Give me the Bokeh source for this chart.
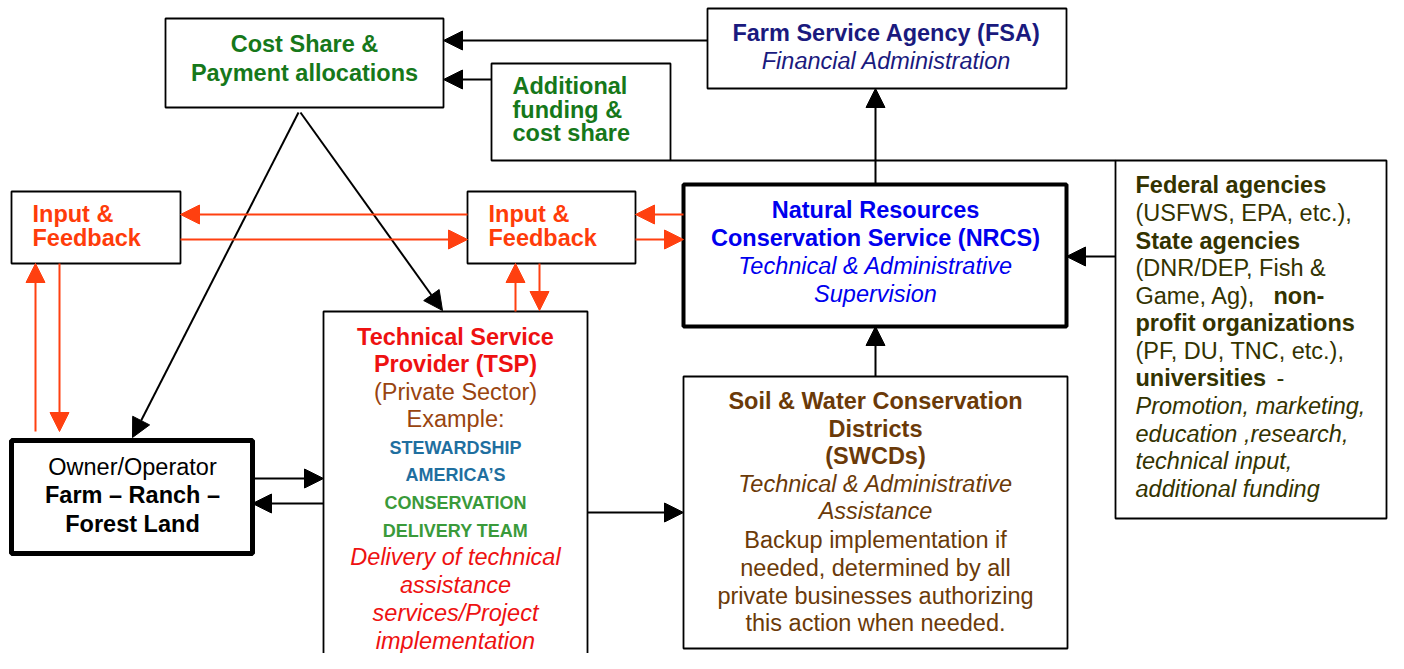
from bokeh.plotting import figure
from bokeh.models import ColumnDataSource, Arrow, NormalHead, Range1d
from bokeh.core.properties import value
from bokeh.embed import file_html
from bokeh.resources import INLINE

# ---------------- diagram content ----------------
GREEN = "#16781a"
NAVY = "#1a1a7e"
BLUE = "#0000ee"
ORANGE = "#ff3c0a"
RED = "#ee1111"
BROWN_T = "#99440f"
TEAL = "#1f6f9f"
LGREEN = "#3a9a3a"
BROWN = "#6b3a08"
OLIVE = "#333300"

# boxes (layout)
box_names = ["cost", "additional", "fsa", "input_left", "input_mid",
             "nrcs", "federal", "owner", "tsp", "swcd"]
box_left = [165, 491, 707, 11, 467, 683, 1115, 11, 323, 683]
box_right = [443, 670, 1066, 180, 635, 1066, 1386, 252, 587, 1067]
box_top = [18, 63, 8, 191, 191, 184, 160, 440, 311, 376]
box_bottom = [107, 160, 88, 263, 263, 326, 518, 553, 700, 648]
box_lw = [1.8, 1.8, 1.8, 1.8, 1.8, 4, 1.8, 5, 1.8, 1.8]

# text lines: (text, x, y, style, colour, size, align)
text_items = [
    ("Cost Share &", 304, 43, "bold", GREEN, 23.5, "center"),
    ("Payment allocations", 304, 72, "bold", GREEN, 23.5, "center"),
    ("Additional", 512, 85, "bold", GREEN, 23.5, "left"),
    ("funding &", 512, 109, "bold", GREEN, 23.5, "left"),
    ("cost share", 512, 132, "bold", GREEN, 23.5, "left"),
    ("Farm Service Agency (FSA)", 886, 32, "bold", NAVY, 23.5, "center"),
    ("Financial Administration", 886, 60, "italic", NAVY, 23.5, "center"),
    ("Input &", 32, 213, "bold", ORANGE, 23.5, "left"),
    ("Feedback", 32, 237, "bold", ORANGE, 23.5, "left"),
    ("Input &", 488, 213, "bold", ORANGE, 23.5, "left"),
    ("Feedback", 488, 237, "bold", ORANGE, 23.5, "left"),
    ("Natural Resources", 875, 209, "bold", BLUE, 23.5, "center"),
    ("Conservation Service (NRCS)", 875, 237, "bold", BLUE, 23.5, "center"),
    ("Technical & Administrative", 875, 265, "italic", BLUE, 23.5, "center"),
    ("Supervision", 875, 293, "italic", BLUE, 23.5, "center"),
    ("Federal agencies", 1135, 184, "bold", OLIVE, 23.5, "left"),
    ("(USFWS, EPA, etc.),", 1135, 212, "normal", OLIVE, 23.5, "left"),
    ("State agencies", 1135, 240, "bold", OLIVE, 23.5, "left"),
    ("(DNR/DEP, Fish &", 1135, 267, "normal", OLIVE, 23.5, "left"),
    ("Game, Ag),", 1135, 295, "normal", OLIVE, 23.5, "left"),
    ("non-", 1273, 295, "bold", OLIVE, 23.5, "left"),
    ("profit organizations", 1135, 322, "bold", OLIVE, 23.5, "left"),
    ("(PF, DU, TNC, etc.),", 1135, 350, "normal", OLIVE, 23.5, "left"),
    ("universities", 1135, 377, "bold", OLIVE, 23.5, "left"),
    ("-", 1276, 377, "normal", OLIVE, 23.5, "left"),
    ("Promotion, marketing,", 1135, 405, "italic", OLIVE, 23.5, "left"),
    ("education ,research,", 1135, 433, "italic", OLIVE, 23.5, "left"),
    ("technical input,", 1135, 460, "italic", OLIVE, 23.5, "left"),
    ("additional funding", 1135, 488, "italic", OLIVE, 23.5, "left"),
    ("Owner/Operator", 132, 466, "normal", "#000000", 23.5, "center"),
    ("Farm \u2013 Ranch \u2013", 132, 494, "bold", "#000000", 23.5, "center"),
    ("Forest Land", 132, 523, "bold", "#000000", 23.5, "center"),
    ("Technical Service", 455, 336, "bold", RED, 23.5, "center"),
    ("Provider (TSP)", 455, 363, "bold", RED, 23.5, "center"),
    ("(Private Sector)", 455, 391, "normal", BROWN_T, 23.5, "center"),
    ("Example:", 455, 418, "normal", BROWN_T, 23.5, "center"),
    ("STEWARDSHIP", 455, 447, "bold", TEAL, 18, "center"),
    ("AMERICA\u2019S", 455, 474, "bold", TEAL, 18, "center"),
    ("CONSERVATION", 455, 502, "bold", LGREEN, 18, "center"),
    ("DELIVERY TEAM", 455, 530, "bold", LGREEN, 18, "center"),
    ("Delivery of technical", 455, 556, "italic", RED, 23.5, "center"),
    ("assistance", 455, 584, "italic", RED, 23.5, "center"),
    ("services/Project", 455, 612, "italic", RED, 23.5, "center"),
    ("implementation", 455, 640, "italic", RED, 23.5, "center"),
    ("Soil & Water Conservation", 875, 400, "bold", BROWN, 23.5, "center"),
    ("Districts", 875, 428, "bold", BROWN, 23.5, "center"),
    ("(SWCDs)", 875, 455, "bold", BROWN, 23.5, "center"),
    ("Technical & Administrative", 875, 483, "italic", BROWN, 23.5, "center"),
    ("Assistance", 875, 510, "italic", BROWN, 23.5, "center"),
    ("Backup implementation if", 875, 539, "normal", BROWN, 23.5, "center"),
    ("needed, determined by all", 875, 567, "normal", BROWN, 23.5, "center"),
    ("private businesses authorizing", 875, 595, "normal", BROWN, 23.5, "center"),
    ("this action when needed.", 875, 622, "normal", BROWN, 23.5, "center"),
]

# black arrows (start -> end, head at end)
black_x0 = [707, 491, 875, 1115, 875, 253, 323, 587, 298, 300]
black_y0 = [40, 79, 184, 256, 376, 478, 503, 512, 112, 112]
black_x1 = [443, 443, 875, 1066, 875, 323, 252, 683, 132, 442]
black_y1 = [40, 79, 88, 256, 326, 478, 503, 512, 437, 310]

# orange arrows
orange_x0 = [467, 180, 683, 635, 35, 59, 515, 539]
orange_y0 = [214, 239, 214, 239, 431, 263, 311, 263]
orange_x1 = [180, 467, 635, 683, 35, 59, 515, 539]
orange_y1 = [214, 239, 214, 239, 263, 431, 263, 310]

# plain connector line (bottom of "Additional" box to the federal box)
line_x0 = [670]
line_x1 = [1115]
line_y = [160]

# ---------------- figure ----------------
p = figure(width=1388, height=653, x_range=Range1d(0, 1388), y_range=Range1d(653, 0),
           output_backend="svg", toolbar_location=None, min_border=0,
           x_axis_type=None, y_axis_type=None)
p.grid.visible = False
p.outline_line_color = None
p.background_fill_color = "white"
p.border_fill_color = "white"

box_src = ColumnDataSource(dict(left=box_left, right=box_right, top=box_top,
                                bottom=box_bottom, lw=box_lw))
p.quad(left="left", right="right", top="top", bottom="bottom", source=box_src,
       fill_color="white", line_color="black", line_width="lw")

p.segment(x0=line_x0, y0=line_y, x1=line_x1, y1=line_y, line_color="black", line_width=1.8)

bsrc = ColumnDataSource(dict(x0=black_x0, y0=black_y0, x1=black_x1, y1=black_y1))
p.add_layout(Arrow(end=NormalHead(size=19, fill_color="black", line_color="black"),
                   source=bsrc, x_start="x0", y_start="y0", x_end="x1", y_end="y1",
                   line_color="black", line_width=2))

osrc = ColumnDataSource(dict(x0=orange_x0, y0=orange_y0, x1=orange_x1, y1=orange_y1))
p.add_layout(Arrow(end=NormalHead(size=19, fill_color="#ff4010", line_color="#ff4010"),
                   source=osrc, x_start="x0", y_start="y0", x_end="x1", y_end="y1",
                   line_color="#ff4010", line_width=2))

tsrc = ColumnDataSource(dict(
    text=[t[0] for t in text_items], x=[t[1] for t in text_items],
    y=[t[2] for t in text_items], style=[t[3] for t in text_items],
    color=[t[4] for t in text_items], size=[f"{t[5]}px" for t in text_items],
    align=[t[6] for t in text_items]))
p.text(x="x", y="y", text="text", source=tsrc, text_color="color",
       text_font=value("Liberation Sans"), text_font_style="style",
       text_font_size="size", text_align="align", text_baseline="middle")

open("out.html", "w").write(file_html(p, INLINE))
